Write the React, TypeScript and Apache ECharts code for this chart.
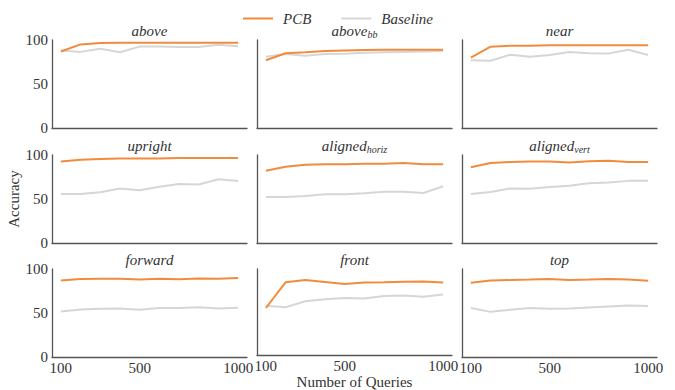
import React, { useEffect, useRef } from "react";
import * as echarts from "echarts";

const queries = [100, 200, 300, 400, 500, 600, 700, 800, 900, 1000];
const xTickLabels = [100, 500, 1000];
const yTicks = { min: 0, max: 100, interval: 50 };
const seriesNames = ["PCB", "Baseline"];

const panelTitles = [
  "{m|above}",
  "{m|above}{sub|bb}",
  "{m|near}",
  "{m|upright}",
  "{m|aligned}{sub|horiz}",
  "{m|aligned}{sub|vert}",
  "{m|forward}",
  "{m|front}",
  "{m|top}",
];

const pcbAbove = [87, 95, 96.5, 97, 97, 97, 97, 97, 97, 97];
const baseAbove = [88, 86.5, 90, 86, 92.5, 92.5, 92, 92, 94.5, 93];
const pcbAboveBB = [77, 85, 86, 87.5, 88, 88.5, 89, 89, 89, 89];
const baseAboveBB = [81, 84, 82, 84, 84.5, 85.5, 86, 86.5, 87, 87.5];
const pcbNear = [80, 92.4, 93.5, 93.5, 94, 94, 94, 94, 94, 94];
const baseNear = [77, 76.5, 83.3, 81, 83, 86.4, 85, 84.8, 89, 83];
const pcbUpright = [92.5, 94.5, 95.5, 96, 96, 96, 96.5, 96.5, 96.5, 96.5];
const baseUpright = [55.7, 55.7, 57.6, 62, 60, 64, 67, 66.5, 72.4, 70.5];
const pcbHoriz = [82, 86.7, 89, 89.5, 89.5, 90, 90, 91, 89.5, 89.5];
const baseHoriz = [52.3, 52.3, 53.4, 55.3, 55.3, 56.5, 58.3, 58.3, 56.8, 64.5];
const pcbVert = [86, 91, 92, 92.5, 92.5, 91.5, 93, 93.5, 92, 92];
const baseVert = [55.7, 57.9, 62, 61.7, 63.6, 65, 68, 68.8, 70.6, 70.6];
const pcbForward = [87, 88.6, 88.8, 88.8, 88, 89, 88.3, 89.3, 89, 89.8];
const baseForward = [51.7, 54, 54.7, 55, 53.6, 55.6, 55.6, 56.6, 55, 56];
const pcbFront = [54.7, 84.5, 87.2, 85, 82.7, 84.2, 84.5, 85.3, 85.6, 84.2];
const baseFront = [57.3, 55.5, 62.6, 65, 66.4, 65.7, 68.6, 69.3, 67.8, 70.5];
const pcbTop = [84.5, 87, 87.4, 88, 88.7, 87.4, 88, 88.7, 88, 86.6];
const baseTop = [55.8, 51.3, 53.6, 55.8, 54.7, 55, 56.2, 57.4, 58.5, 58];

const pcbData = [pcbAbove, pcbAboveBB, pcbNear, pcbUpright, pcbHoriz, pcbVert, pcbForward, pcbFront, pcbTop];
const baseData = [baseAbove, baseAboveBB, baseNear, baseUpright, baseHoriz, baseVert, baseForward, baseFront, baseTop];

const FONT = "Liberation Serif";
const ORANGE = "#f28b3c";
const GRAY = "#d6d6d6";
const TEXT = "#333";

export default function App() {
  const ref = useRef<HTMLDivElement>(null);
  useEffect(() => {
    if (!ref.current) return;
    const chart = echarts.init(ref.current, undefined, { renderer: "svg" });
    const lefts = [52, 257, 462];
    const tops = [40, 155, 269];
    const W = 195;
    const H = 88;
    const grids: any[] = [];
    const xAxes: any[] = [];
    const yAxes: any[] = [];
    const series: any[] = [];
    const titles: any[] = [];
    for (let i = 0; i < 9; i++) {
      const r = Math.floor(i / 3);
      const c = i % 3;
      grids.push({ left: lefts[c], top: tops[r], width: W, height: H });
      xAxes.push({
        gridIndex: i,
        type: "value",
        min: 55,
        max: 1045,
        axisLine: { show: true, lineStyle: { color: "#555", width: 1.3 } },
        axisTick: { show: false },
        splitLine: { show: false },
        axisLabel: {
          show: r === 2,
          customValues: xTickLabels,
          formatter: (v: number) => String(v),
          color: TEXT,
          fontFamily: FONT,
          fontSize: 15,
          margin: 3,
        },
        name: r === 2 && c === 1 ? "Number of Queries" : "",
        nameLocation: "middle",
        nameGap: 17,
        nameTextStyle: { color: TEXT, fontFamily: FONT, fontSize: 15 },
      });
      yAxes.push({
        gridIndex: i,
        type: "value",
        min: yTicks.min,
        max: yTicks.max,
        interval: yTicks.interval,
        axisLine: { show: true, lineStyle: { color: "#555", width: 1.3 } },
        axisTick: { show: false },
        splitLine: { show: false },
        axisLabel: {
          show: c === 0,
          color: TEXT,
          fontFamily: FONT,
          fontSize: 15,
          margin: 4,
        },
        name: c === 0 && r === 1 ? "Accuracy" : "",
        nameLocation: "middle",
        nameGap: 28,
        nameTextStyle: { color: TEXT, fontFamily: FONT, fontSize: 15 },
      });
      series.push({
        name: seriesNames[1],
        type: "line",
        xAxisIndex: i,
        yAxisIndex: i,
        data: queries.map((q, k) => [q, baseData[i][k]]),
        symbol: "none",
        lineStyle: { color: GRAY, width: 2 },
        itemStyle: { color: GRAY },
        z: 2,
      });
      series.push({
        name: seriesNames[0],
        type: "line",
        xAxisIndex: i,
        yAxisIndex: i,
        data: queries.map((q, k) => [q, pcbData[i][k]]),
        symbol: "none",
        lineStyle: { color: ORANGE, width: 2 },
        itemStyle: { color: ORANGE },
        z: 3,
      });
      titles.push({
        type: "text",
        x: lefts[c] + W / 2,
        y: tops[r] - 17,
        style: {
          text: panelTitles[i],
          align: "center",
          verticalAlign: "top",
          fill: TEXT,
          fontFamily: FONT,
          fontStyle: "italic",
          fontSize: 15,
          rich: {
            m: {
              fontFamily: FONT,
              fontStyle: "italic",
              fontSize: 15,
              fill: TEXT,
              lineHeight: 16,
              verticalAlign: "top",
            },
            sub: {
              fontFamily: FONT,
              fontStyle: "italic",
              fontSize: 10,
              fill: TEXT,
              lineHeight: 8,
              verticalAlign: "bottom",
            },
          },
        },
      });
    }
    chart.setOption({
      animation: false,
      backgroundColor: "#fff",
      graphic: titles,
      legend: {
        data: seriesNames,
        left: 238,
        top: 6,
        icon: "rect",
        itemWidth: 30,
        itemHeight: 2,
        itemGap: 30,
        textStyle: {
          fontFamily: FONT,
          fontStyle: "italic",
          fontSize: 15,
          color: TEXT,
          padding: [0, 0, 0, 5],
        },
      },
      grid: grids,
      xAxis: xAxes,
      yAxis: yAxes,
      series,
    });
    return () => chart.dispose();
  }, []);
  return (
    <div
      ref={ref}
      style={{ position: "absolute", left: 0, top: 0, width: 675, height: 390 }}
    />
  );
}
